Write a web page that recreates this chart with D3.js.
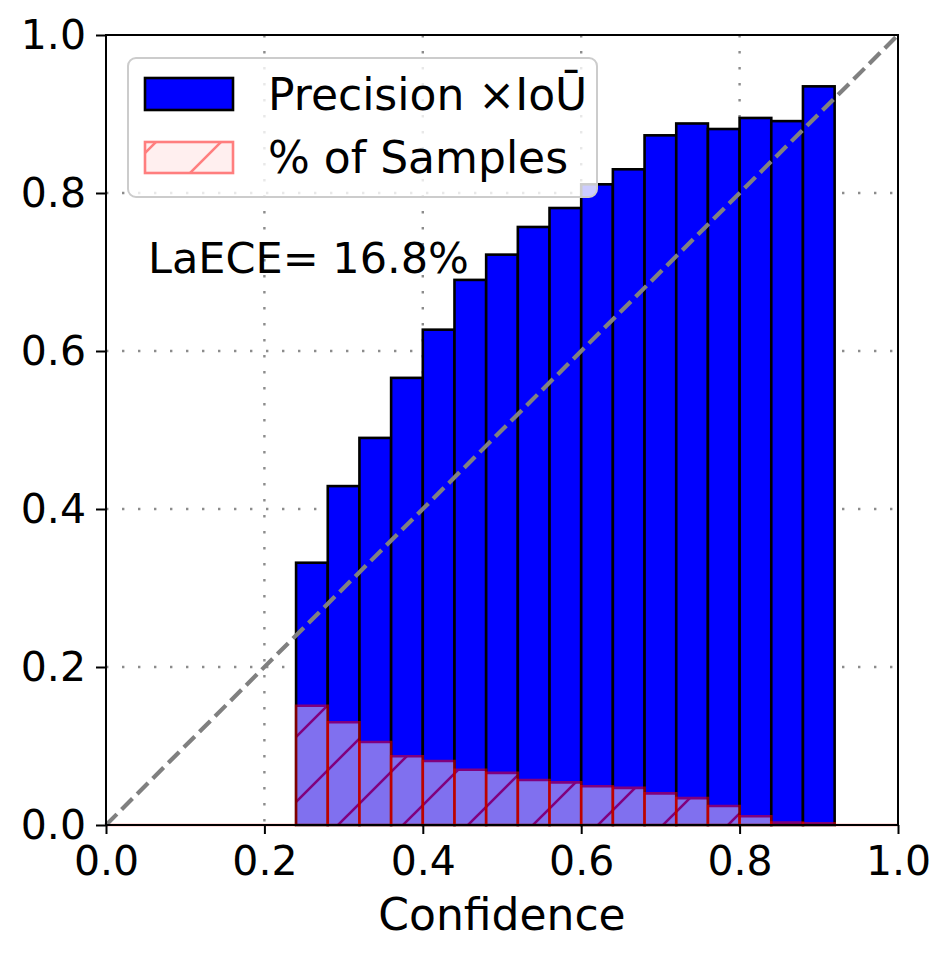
<!DOCTYPE html>
<html>
<head>
<meta charset="utf-8">
<script src="https://cdn.jsdelivr.net/npm/d3@7"></script>
<style>
  body { margin: 0; background: #fff; }
  svg { font-family: "DejaVu Sans", sans-serif; }
</style>
</head>
<body>
<svg id="chart" width="951" height="958"></svg>
<script>
// left edge of each confidence bin (width 0.04)
const BIN_LEFT = [0.00, 0.04, 0.08, 0.12, 0.16, 0.20, 0.24, 0.28, 0.32, 0.36,
                  0.40, 0.44, 0.48, 0.52, 0.56, 0.60, 0.64, 0.68, 0.72, 0.76,
                  0.80, 0.84, 0.88, 0.92, 0.96];
const BIN_WIDTH = 0.04;
// precision x IoU per bin (null = empty bin)
const PRECISION_IOU = [null, null, null, null, null, null, 0.332, 0.429, 0.490, 0.566,
                       0.627, 0.690, 0.722, 0.757, 0.781, 0.811, 0.830, 0.873, 0.888, 0.881,
                       0.895, 0.891, 0.935, null, null];
// share of samples per bin
const SAMPLE_SHARE = [0, 0, 0, 0, 0, 0, 0.151, 0.130, 0.105, 0.087,
                      0.081, 0.070, 0.066, 0.057, 0.054, 0.049, 0.047, 0.040, 0.034, 0.024,
                      0.011, 0.003, 0.002, 0, 0];
const TICKS = [0.0, 0.2, 0.4, 0.6, 0.8, 1.0];
const LEGEND_LABELS = ["Precision \u00d7IoU\u0304", "% of Samples"];
const LAECE_TEXT = "LaECE= 16.8%";

const M = {left: 106, top: 35};
const W = 792, H = 790;

const svg = d3.select('#chart');

// hatch pattern, matplotlib '/' style
const defs = svg.append('defs');
const hatch = defs.append('pattern')
  .attr('id', 'hatch')
  .attr('patternUnits', 'userSpaceOnUse')
  .attr('width', 65).attr('height', 65)
  .attr('x', -18);
hatch.append('path')
  .attr('d', 'M0,65 L65,0 M-5,5 L5,-5 M60,70 L70,60')
  .attr('stroke', 'red')
  .attr('stroke-width', 2.6);

const x = d3.scaleLinear().domain([0, 1]).range([0, W]);
const y = d3.scaleLinear().domain([0, 1]).range([H, 0]);

const g = svg.append('g').attr('transform', `translate(${M.left},${M.top})`);

// grid (dotted)
g.append('g').selectAll('line.gx')
  .data(TICKS.slice(1, -1))
  .enter().append('line')
  .attr('x1', d => x(d)).attr('x2', d => x(d))
  .attr('y1', 0).attr('y2', H)
  .attr('stroke', '#8c8c8c').attr('stroke-width', 2.4)
  .attr('stroke-dasharray', '2.4,13.6');
g.append('g').selectAll('line.gy')
  .data(TICKS.slice(1, -1))
  .enter().append('line')
  .attr('y1', d => y(d)).attr('y2', d => y(d))
  .attr('x1', 0).attr('x2', W)
  .attr('stroke', '#8c8c8c').attr('stroke-width', 2.4)
  .attr('stroke-dasharray', '2.4,13.6');

const bins = BIN_LEFT.map((b, i) => ({b, p: PRECISION_IOU[i], s: SAMPLE_SHARE[i]}));

// precision x IoU bars
g.append('g').selectAll('rect.bar')
  .data(bins.filter(d => d.p !== null))
  .enter().append('rect')
  .classed('bar', true)
  .attr('x', d => x(d.b))
  .attr('width', x(BIN_WIDTH) - x(0))
  .attr('y', d => y(d.p))
  .attr('height', d => y(0) - y(d.p))
  .attr('fill', '#0000ff')
  .attr('stroke', '#000')
  .attr('stroke-width', 2.6);

// sample share bars (paths so zero-height bins still draw their edge)
const barPath = d => {
  const x0 = x(d.b), x1 = x(d.b + BIN_WIDTH), y0 = y(0), y1 = y(d.s);
  return `M${x0},${y0}L${x0},${y1}L${x1},${y1}L${x1},${y0}Z`;
};
const sg = g.append('g').selectAll('g.sample')
  .data(bins)
  .enter().append('g')
  .attr('opacity', 0.5);
sg.append('path').attr('d', barPath).attr('fill', 'rgb(255,224,225)');
sg.append('path').attr('d', barPath).attr('fill', 'url(#hatch)');
sg.append('path').attr('d', barPath).attr('fill', 'none')
  .attr('stroke', 'red').attr('stroke-width', 2.6);

// diagonal reference
g.append('line')
  .attr('x1', x(0)).attr('y1', y(0))
  .attr('x2', x(1)).attr('y2', y(1))
  .attr('stroke', '#808080')
  .attr('stroke-width', 4.2)
  .attr('stroke-dasharray', '15.4,6.6');

// axes
const xAxis = g.append('g')
  .attr('transform', `translate(0,${H})`)
  .call(d3.axisBottom(x).tickValues(TICKS).tickFormat(d3.format('.1f')).tickSize(9).tickPadding(10));
const yAxis = g.append('g')
  .call(d3.axisLeft(y).tickValues(TICKS).tickFormat(d3.format('.1f')).tickSize(10).tickPadding(10));
[xAxis, yAxis].forEach(a => {
  a.select('.domain').remove();
  a.selectAll('line').attr('stroke', '#000').attr('stroke-width', 2);
  a.selectAll('text').attr('font-size', 41).attr('fill', '#000')
    .attr('font-family', '"DejaVu Sans", sans-serif');
});
xAxis.selectAll('text').attr('dy', '0.76em');

// frame
g.append('rect')
  .attr('width', W).attr('height', H)
  .attr('fill', 'none').attr('stroke', '#000').attr('stroke-width', 2);

g.append('text')
  .attr('x', W / 2).attr('y', 895)
  .attr('text-anchor', 'middle')
  .attr('font-size', 44)
  .text('Confidence');

g.append('text')
  .attr('x', 148 - M.left).attr('y', 273 - M.top)
  .attr('font-size', 43)
  .text(LAECE_TEXT);

// legend
const lg = g.append('g').attr('transform', `translate(${128 - M.left},${58 - M.top})`);
lg.append('rect')
  .attr('width', 469).attr('height', 139)
  .attr('rx', 8)
  .attr('fill', 'rgba(255,255,255,0.8)')
  .attr('stroke', '#cccccc').attr('stroke-width', 2);
lg.append('rect')
  .attr('x', 17).attr('y', 20).attr('width', 88).attr('height', 32)
  .attr('fill', '#0000ff').attr('stroke', '#000').attr('stroke-width', 2.6);
const lh = lg.append('g').attr('opacity', 0.5);
lh.append('rect').attr('x', 17).attr('y', 84).attr('width', 88).attr('height', 31)
  .attr('fill', 'rgb(255,224,225)');
lh.append('rect').attr('x', 17).attr('y', 84).attr('width', 88).attr('height', 31)
  .attr('fill', 'url(#hatch)');
lh.append('rect').attr('x', 17).attr('y', 84).attr('width', 88).attr('height', 31)
  .attr('fill', 'none').attr('stroke', 'red').attr('stroke-width', 2.6);
lg.selectAll('text.lbl')
  .data(LEGEND_LABELS)
  .enter().append('text')
  .attr('x', 140)
  .attr('y', (d, i) => 52 + i * 63)
  .attr('font-size', 44)
  .text(d => d);
</script>
</body>
</html>
